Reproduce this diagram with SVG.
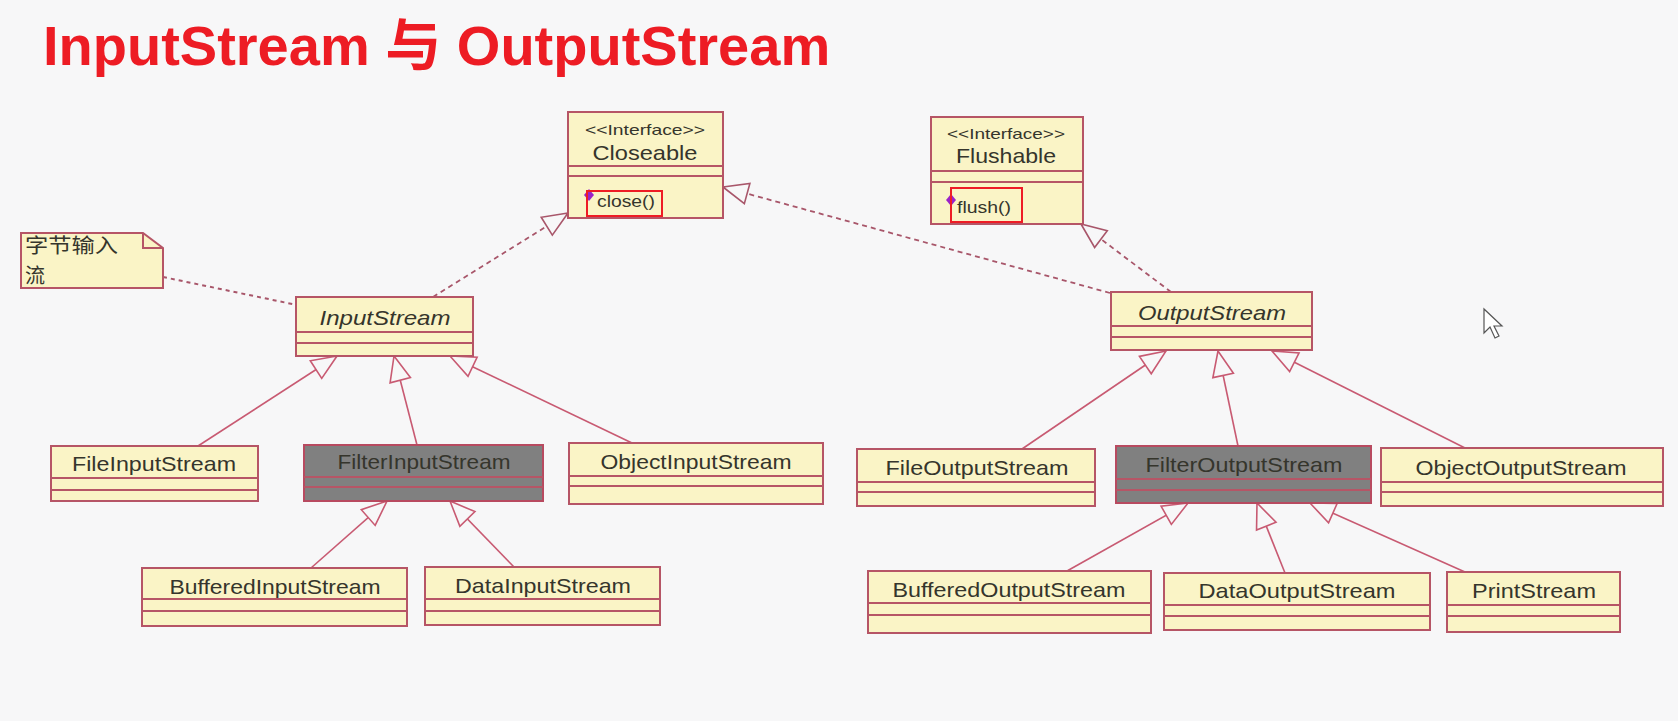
<svg xmlns="http://www.w3.org/2000/svg" width="1678" height="721" viewBox="0 0 1678 721">
<style>
.bg{fill:#f7f7f8}
.box{fill:#faf4c6;stroke:#b65566;stroke-width:2}
.dark{fill:#808080;stroke:#b84a60;stroke-width:2}
.sep{stroke:#b65566;stroke-width:2;fill:none}
.t{font-family:"Liberation Sans",Arial,sans-serif;font-size:21px;fill:#35352c;text-anchor:middle}
.it{font-style:italic}
.st{font-family:"Liberation Sans",Arial,sans-serif;font-size:15px;fill:#35352c;text-anchor:middle}
.op{font-family:"Liberation Sans",Arial,sans-serif;font-size:17px;fill:#35352c}
.hl{fill:none;stroke:#ee1c25;stroke-width:2}
.gen{fill:none;stroke:#c85a72;stroke-width:1.6;marker-end:url(#tri)}
.real{fill:none;stroke:#a8566a;stroke-width:1.8;stroke-dasharray:5 4;marker-end:url(#tri2)}
.note{fill:none;stroke:#a8566a;stroke-width:2;stroke-dasharray:4 4}
.cjk{font-family:"Noto Sans CJK SC",sans-serif;font-size:20px;fill:#35352c}
</style>
<defs>
<marker id="tri" markerUnits="userSpaceOnUse" orient="auto" refX="0" refY="0" markerWidth="30" markerHeight="30" overflow="visible">
<path d="M0,0 L-25,-10.5 L-25,10.5 Z" fill="#f7f7f8" stroke="#c85a72" stroke-width="1.6"/>
</marker>
<marker id="tri2" markerUnits="userSpaceOnUse" orient="auto" refX="0" refY="0" markerWidth="30" markerHeight="30" overflow="visible">
<path d="M0,0 L-25,-10.5 L-25,10.5 Z" fill="#f7f7f8" stroke="#a8566a" stroke-width="1.6"/>
</marker>
</defs>
<rect class="bg" x="0" y="0" width="1678" height="721"/>

<text x="43" y="65" font-family="Liberation Sans, Arial, 'Noto Sans CJK SC', sans-serif" font-weight="bold" font-size="56" fill="#ed1c24">InputStream <tspan font-family="'Noto Sans CJK SC', sans-serif">与</tspan> OutputStream</text>

<g id="connectors">
<path class="note" d="M163,277 L297,305"/>
<path class="real" d="M433,297 L568,213"/>
<path class="real" d="M1110,293 L723,187"/>
<path class="real" d="M1171,292 L1081,224"/>
<path class="gen" d="M198,446 L337,356"/>
<path class="gen" d="M417,445 L394,356"/>
<path class="gen" d="M632,443 L450,356"/>
<path class="gen" d="M311,568 L387,501"/>
<path class="gen" d="M514,567 L450,501"/>
<path class="gen" d="M1022,449 L1166,351"/>
<path class="gen" d="M1238,446 L1218,351"/>
<path class="gen" d="M1465,448 L1272,351"/>
<path class="gen" d="M1067,571 L1188,503"/>
<path class="gen" d="M1285,573 L1257,503"/>
<path class="gen" d="M1465,572 L1310,503"/>
</g>

<g id="note">
<path class="box" d="M21,233 L143,233 L163,248 L163,288 L21,288 Z"/>
<path class="sep" d="M143,233 L143,248 L163,248"/>
<text class="cjk" x="25" y="253"><tspan x="25" y="253" textLength="93" lengthAdjust="spacingAndGlyphs">字节输入</tspan><tspan x="25" y="283">流</tspan></text>
</g>

<g id="Closeable">
<rect class="box" x="568" y="112" width="155" height="106"/>
<path class="sep" d="M568,166 H723 M568,176 H723"/>
<text class="st" x="645" y="135" textLength="120" lengthAdjust="spacingAndGlyphs">&lt;&lt;Interface&gt;&gt;</text>
<text class="t" x="645" y="160" textLength="105" lengthAdjust="spacingAndGlyphs">Closeable</text>
<path d="M589,189 L594,195 L589,201 L584,195 Z" fill="#9a22c8"/>
<text class="op" x="597" y="207" textLength="58" lengthAdjust="spacingAndGlyphs">close()</text>
<rect class="hl" x="587" y="191" width="75" height="25"/>
</g>

<g id="Flushable">
<rect class="box" x="931" y="117" width="152" height="107"/>
<path class="sep" d="M931,171 H1083 M931,182 H1083"/>
<text class="st" x="1006" y="139" textLength="118" lengthAdjust="spacingAndGlyphs">&lt;&lt;Interface&gt;&gt;</text>
<text class="t" x="1006" y="163" textLength="100" lengthAdjust="spacingAndGlyphs">Flushable</text>
<path d="M951,194 L956,200 L951,206 L946,200 Z" fill="#9a22c8"/>
<text class="op" x="957" y="213" textLength="54" lengthAdjust="spacingAndGlyphs">flush()</text>
<rect class="hl" x="951" y="188" width="71" height="34"/>
</g>

<g id="InputStream">
<rect class="box" x="296" y="297" width="177" height="59"/>
<path class="sep" d="M296,332 H473 M296,343 H473"/>
<text class="t it" x="385" y="325" textLength="131" lengthAdjust="spacingAndGlyphs">InputStream</text>
</g>

<g id="OutputStream">
<rect class="box" x="1111" y="292" width="201" height="58"/>
<path class="sep" d="M1111,326 H1312 M1111,337 H1312"/>
<text class="t it" x="1212" y="320" textLength="148" lengthAdjust="spacingAndGlyphs">OutputStream</text>
</g>

<g id="FileInputStream">
<rect class="box" x="51" y="446" width="207" height="55"/>
<path class="sep" d="M51,478 H258 M51,490 H258"/>
<text class="t" x="154" y="471" textLength="164" lengthAdjust="spacingAndGlyphs">FileInputStream</text>
</g>

<g id="FilterInputStream">
<rect class="dark" x="304" y="445" width="239" height="56"/>
<path class="sep" d="M304,477 H543 M304,487 H543"/>
<text class="t" x="424" y="469" textLength="173" lengthAdjust="spacingAndGlyphs">FilterInputStream</text>
</g>

<g id="ObjectInputStream">
<rect class="box" x="569" y="443" width="254" height="61"/>
<path class="sep" d="M569,476 H823 M569,486 H823"/>
<text class="t" x="696" y="469" textLength="191" lengthAdjust="spacingAndGlyphs">ObjectInputStream</text>
</g>

<g id="BufferedInputStream">
<rect class="box" x="142" y="568" width="265" height="58"/>
<path class="sep" d="M142,599 H407 M142,611 H407"/>
<text class="t" x="275" y="594" textLength="211" lengthAdjust="spacingAndGlyphs">BufferedInputStream</text>
</g>

<g id="DataInputStream">
<rect class="box" x="425" y="567" width="235" height="58"/>
<path class="sep" d="M425,599 H660 M425,611 H660"/>
<text class="t" x="543" y="593" textLength="176" lengthAdjust="spacingAndGlyphs">DataInputStream</text>
</g>

<g id="FileOutputStream">
<rect class="box" x="857" y="449" width="238" height="57"/>
<path class="sep" d="M857,482 H1095 M857,492 H1095"/>
<text class="t" x="977" y="475" textLength="183" lengthAdjust="spacingAndGlyphs">FileOutputStream</text>
</g>

<g id="FilterOutputStream">
<rect class="dark" x="1116" y="446" width="255" height="57"/>
<path class="sep" d="M1116,479 H1371 M1116,490 H1371"/>
<text class="t" x="1244" y="472" textLength="197" lengthAdjust="spacingAndGlyphs">FilterOutputStream</text>
</g>

<g id="ObjectOutputStream">
<rect class="box" x="1381" y="448" width="282" height="58"/>
<path class="sep" d="M1381,482 H1663 M1381,492 H1663"/>
<text class="t" x="1521" y="475" textLength="211" lengthAdjust="spacingAndGlyphs">ObjectOutputStream</text>
</g>

<g id="BufferedOutputStream">
<rect class="box" x="868" y="571" width="283" height="62"/>
<path class="sep" d="M868,603 H1151 M868,615 H1151"/>
<text class="t" x="1009" y="597" textLength="233" lengthAdjust="spacingAndGlyphs">BufferedOutputStream</text>
</g>

<g id="DataOutputStream">
<rect class="box" x="1164" y="573" width="266" height="57"/>
<path class="sep" d="M1164,605 H1430 M1164,616 H1430"/>
<text class="t" x="1297" y="598" textLength="197" lengthAdjust="spacingAndGlyphs">DataOutputStream</text>
</g>

<g id="PrintStream">
<rect class="box" x="1447" y="572" width="173" height="60"/>
<path class="sep" d="M1447,605 H1620 M1447,616 H1620"/>
<text class="t" x="1534" y="598" textLength="124" lengthAdjust="spacingAndGlyphs">PrintStream</text>
</g>

<path d="M1484,309 L1484,333 L1490,327 L1495,338 L1499,336 L1494,326 L1502,326 Z" fill="#ffffff" stroke="#555" stroke-width="1.2"/>
</svg>
